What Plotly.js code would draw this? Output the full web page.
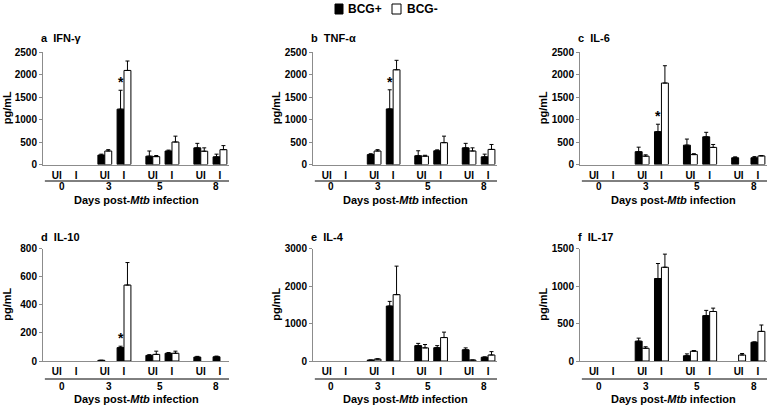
<!DOCTYPE html>
<html><head><meta charset="utf-8">
<script src="https://cdn.plot.ly/plotly-3.0.1.min.js"></script>
<style>html,body{margin:0;padding:0;background:#fff}#chart{width:768px;height:405px}</style>
</head><body><div id="chart"></div>
<script>
const days = ['0','3','5','8'];
const conditions = ['UI','I','UI','I','UI','I','UI','I'];
const seriesNames = ['BCG+','BCG-'];
const seriesColors = ['#000','#fff'];

// IFN-γ
const ifngBcgPos    = [0,0,210,1230,185,300,370,170];
const ifngBcgPosErr = [0,0,20,420,115,20,100,60];
const ifngBcgNeg    = [0,0,300,2090,175,500,295,330];
const ifngBcgNegErr = [0,0,30,210,25,130,75,90];
// TNF-α
const tnfBcgPos    = [0,0,220,1235,195,305,370,170];
const tnfBcgPosErr = [0,0,20,425,110,20,100,60];
const tnfBcgNeg    = [0,0,300,2105,185,485,300,335];
const tnfBcgNegErr = [0,0,30,210,20,145,70,110];
// IL-6
const il6BcgPos    = [0,0,285,730,430,615,150,150];
const il6BcgPosErr = [0,0,100,165,135,100,20,25];
const il6BcgNeg    = [0,0,185,1810,220,380,0,190];
const il6BcgNegErr = [0,0,30,385,20,65,0,10];
// IL-10
const il10BcgPos    = [0,0,5,95,40,55,28,30];
const il10BcgPosErr = [0,0,0,10,5,5,5,5];
const il10BcgNeg    = [0,0,0,540,47,55,0,0];
const il10BcgNegErr = [0,0,0,160,23,15,0,0];
// IL-4
const il4BcgPos    = [0,0,25,1465,410,355,300,100];
const il4BcgPosErr = [0,0,0,125,60,55,50,10];
const il4BcgNeg    = [0,0,50,1770,350,625,25,160];
const il4BcgNegErr = [0,0,10,760,90,145,0,90];
// IL-17
const il17BcgPos    = [0,0,265,1100,70,605,0,250];
const il17BcgPosErr = [0,0,40,200,25,70,0,5];
const il17BcgNeg    = [0,0,170,1250,130,660,80,395];
const il17BcgNegErr = [0,0,20,175,10,45,20,85];

const panels = [
  {letter:'a', name:'IFN-γ', pos:ifngBcgPos, posErr:ifngBcgPosErr, neg:ifngBcgNeg, negErr:ifngBcgNegErr, yMax:2500, dtick:500, star:3},
  {letter:'b', name:'TNF-α', pos:tnfBcgPos, posErr:tnfBcgPosErr, neg:tnfBcgNeg, negErr:tnfBcgNegErr, yMax:2500, dtick:500, star:3},
  {letter:'c', name:'IL-6', pos:il6BcgPos, posErr:il6BcgPosErr, neg:il6BcgNeg, negErr:il6BcgNegErr, yMax:2500, dtick:500, star:3},
  {letter:'d', name:'IL-10', pos:il10BcgPos, posErr:il10BcgPosErr, neg:il10BcgNeg, negErr:il10BcgNegErr, yMax:800, dtick:200, star:3},
  {letter:'e', name:'IL-4', pos:il4BcgPos, posErr:il4BcgPosErr, neg:il4BcgNeg, negErr:il4BcgNegErr, yMax:3000, dtick:1000, star:null},
  {letter:'f', name:'IL-17', pos:il17BcgPos, posErr:il17BcgPosErr, neg:il17BcgNeg, negErr:il17BcgNegErr, yMax:1500, dtick:500, star:null}
];

// layout geometry (pixels of the 768x405 canvas)
const W = 768, H = 405;
const colPx = [[43,229],[313,497],[580,767]];
const rowPx = [{top:52, zero:164.5, title:38, line:181, day:186.5, xt:199.5},
               {top:248.5, zero:361, title:237, line:379, day:386, xt:398.5}];
const yTitlePx = [7, 276, 543];
const xPos = conditions.map((c,i) => i + Math.floor(i/2)*0.5);
const dayLabelPos = [0.25, 2.7, 5.35, 8.3];
const xRange = [-0.72, 8.97];
const bargap = 0.28;
const barOffset = (1-bargap)/4;
const legendPx = [{sq:[335,343], tx:346}, {sq:[392,401], tx:405}];

const font = {family:'Liberation Sans, Arial, sans-serif', color:'#000', weight:'bold'};
const F = s => Object.assign({size:s}, font);
const traces = [];
const layout = {
  width:W, height:H, margin:{l:0,r:0,t:0,b:0},
  paper_bgcolor:'#fff', plot_bgcolor:'#fff',
  barmode:'group', bargap:bargap, bargroupgap:0,
  font:F(10), showlegend:false,
  annotations:[], shapes:[]
};

// legend (drawn as paper shapes + text)
seriesNames.forEach((n, i) => {
  const L = legendPx[i];
  layout.shapes.push({type:'rect', xref:'paper', yref:'paper', x0:L.sq[0]/W, x1:L.sq[1]/W,
    y0:1-14/H, y1:1-4/H, fillcolor:seriesColors[i], line:{color:'#000', width:1}});
  layout.annotations.push({xref:'paper', yref:'paper', x:L.tx/W, y:1-9/H, xanchor:'left', yanchor:'middle',
    showarrow:false, text:n, font:F(12)});
});

const nz = a => a.map(v => v === 0 ? null : v);

panels.forEach((p, k) => {
  const col = k % 3, row = Math.floor(k/3);
  const sfx = k === 0 ? '' : String(k+1);
  const xa = 'x'+sfx, ya = 'y'+sfx;
  const R = rowPx[row];
  const dom = [colPx[col][0]/W, colPx[col][1]/W];
  const ydom = [1 - R.zero/H, 1 - R.top/H];
  const mk = (vals, errs, i) => ({
    type:'bar', x:xPos, y:nz(vals), name:seriesNames[i], xaxis:xa, yaxis:ya,
    marker:{color:seriesColors[i], line:{color:'#000', width:1}},
    error_y:{type:'data', array:errs, arrayminus:errs.map(()=>0), symmetric:false,
             color:'#000', thickness:1, width:2},
    hoverinfo:'y'
  });
  traces.push(mk(p.pos, p.posErr, 0));
  traces.push(mk(p.neg, p.negErr, 1));

  layout['xaxis'+sfx] = {domain:dom, anchor:ya, range:xRange, showgrid:false, zeroline:false,
    showline:true, linecolor:'#8c8c8c', linewidth:1, ticks:'outside', ticklen:1,
    tickcolor:'rgba(0,0,0,0)', tickvals:xPos, ticktext:conditions,
    tickfont:F(10), fixedrange:true};
  layout['yaxis'+sfx] = {domain:ydom, anchor:xa, range:[0,p.yMax], dtick:p.dtick, tick0:0,
    showgrid:false, zeroline:false, showline:true, linecolor:'#8c8c8c', linewidth:1,
    ticks:'outside', ticklen:3, tickcolor:'#8c8c8c', tickfont:F(10), fixedrange:true};

  // panel title
  layout.annotations.push({xref:'paper', yref:'paper', x:(colPx[col][0]-4)/W, y:1-R.title/H,
    xanchor:'left', yanchor:'middle', showarrow:false,
    text:p.letter+'  '+p.name, font:F(11)});
  // y title
  layout.annotations.push({xref:'paper', yref:'paper', x:yTitlePx[col]/W, y:(ydom[0]+ydom[1])/2,
    xanchor:'center', yanchor:'middle', textangle:-90, showarrow:false,
    text:'pg/mL', font:F(11)});
  // day labels
  days.forEach((d, i) => layout.annotations.push({xref:xa, yref:'paper', x:dayLabelPos[i], y:1-R.day/H,
    xanchor:'center', yanchor:'middle', showarrow:false, text:d, font:F(10)}));
  // x title
  layout.annotations.push({xref:xa+' domain', yref:'paper', x:0.5, y:1-R.xt/H,
    xanchor:'center', yanchor:'middle', showarrow:false,
    text:'Days post-<i>Mtb</i> infection', font:F(11)});
  // second level axis line
  layout.shapes.push({type:'line', xref:xa+' domain', yref:'paper', x0:0.01, x1:1,
    y0:1-R.line/H, y1:1-R.line/H, line:{color:'#000', width:1}});
  // significance star
  if (p.star !== null) {
    const i = p.star;
    layout.annotations.push({xref:xa, yref:ya, x:xPos[i]-barOffset, y:p.pos[i]+p.posErr[i],
      xanchor:'center', yanchor:'bottom', yshift:-2, showarrow:false, text:'*',
      font:F(14)});
  }
});

Plotly.newPlot('chart', traces, layout, {displayModeBar:false, staticPlot:true});
</script></body></html>
